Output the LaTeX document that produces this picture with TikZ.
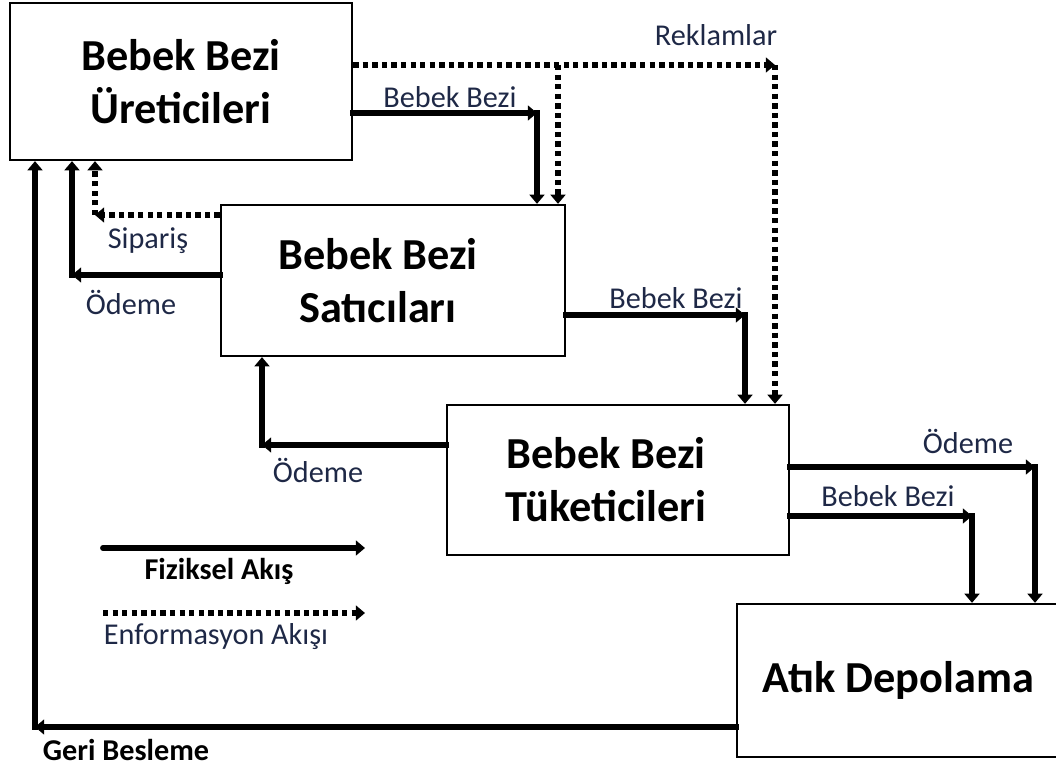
\documentclass[tikz,border=0pt]{standalone}
\usepackage{fontspec}
\setmainfont{Carlito}
\usetikzlibrary{arrows.meta, positioning}
\definecolor{lacivert}{RGB}{30, 40, 70}
\newcommand{\buyukyazi}{\fontsize{31.5}{37.6}\selectfont\bfseries}
\newcommand{\kucukyazi}{\fontsize{21.5}{25}\selectfont}

\tikzset{
  kutu/.style={draw, line width=1.6pt, align=center, font=\buyukyazi},
  fiz/.style={line width=4.2pt, line cap=rect, -{Triangle[length=6.5pt, width=10.5pt]}},
  enf/.style={line width=4.2pt, dash pattern=on 3.8pt off 3pt, -{Triangle[length=6.5pt, width=10.5pt]}},
  yazi/.style={font=\kucukyazi, text=lacivert},
  kalin/.style={font=\kucukyazi\bfseries, text=black}
}

\begin{document}
\begin{tikzpicture}[x=0.025cm, y=-0.025cm]
\useasboundingbox (0,0) rectangle (1056,767);

% Kutular
\node[kutu, minimum width=8.55cm, minimum height=3.925cm] (ureticiler) at (181,81.5) {Bebek Bezi\\Üreticileri};
\node[kutu, minimum width=8.6cm, minimum height=3.775cm,
  label={[align=center, font=\buyukyazi, xshift=-0.375cm]center:Bebek Bezi\\Satıcıları}] (saticilar) at (393,280.5) {};
\node[kutu, minimum width=8.55cm, minimum height=3.75cm,
  label={[align=center, font=\buyukyazi, xshift=-0.3cm]center:Bebek Bezi\\Tüketicileri}] (tuketiciler) at (618,480) {};
\node[kutu, minimum width=8.075cm, minimum height=3.825cm] (atik) at (898.5,680.5) {Atık Depolama};

% Köşeler
\coordinate (k1) at (537,113);
\coordinate (r1) at (775,65);
\coordinate (r2) at (558,65);
\coordinate (s1) at (95,215);
\coordinate (o1) at (72,275);
\coordinate (k2) at (745,315);
\coordinate (o2) at (262,445);
\coordinate (o3) at (1035,467);
\coordinate (k3) at (972,516);
\coordinate (g1) at (35,727);

% Üreticiler -> Satıcılar
\draw[fiz] (ureticiler.east |- k1) -- (k1);
\draw[fiz] (k1) -- (k1 |- saticilar.north);
\node[yazi] at (450,97) {Bebek Bezi};

% Reklamlar
\draw[enf] (ureticiler.east |- r1) -- (r1);
\draw[enf] (r1) -- (r1 |- tuketiciler.north);
\draw[enf] (r2) -- (r2 |- saticilar.north);
\node[yazi] at (716,35) {Reklamlar};

% Satıcılar -> Üreticiler
\draw[enf] (saticilar.west |- s1) -- (s1);
\draw[enf] (s1) -- (s1 |- ureticiler.south);
\node[yazi] at (148,241) {Sipariş};
\draw[fiz] (saticilar.west |- o1) -- (o1);
\draw[fiz] (o1) -- (o1 |- ureticiler.south);
\node[yazi] at (131,302) {Ödeme};

% Satıcılar -> Tüketiciler
\draw[fiz] (saticilar.east |- k2) -- (k2);
\draw[fiz] (k2) -- (k2 |- tuketiciler.north);
\node[yazi] at (676,298) {Bebek Bezi};

% Tüketiciler -> Satıcılar
\draw[fiz] (tuketiciler.west |- o2) -- (o2);
\draw[fiz] (o2) -- (o2 |- saticilar.south);
\node[yazi] at (318,470) {Ödeme};

% Tüketiciler -> Atık Depolama
\draw[fiz] (tuketiciler.east |- o3) -- (o3);
\draw[fiz] (o3) -- (o3 |- atik.north);
\node[yazi] at (968,441) {Ödeme};
\draw[fiz] (tuketiciler.east |- k3) -- (k3);
\draw[fiz] (k3) -- (k3 |- atik.north);
\node[yazi] at (888,496) {Bebek Bezi};

% Geri besleme
\draw[fiz] (atik.west |- g1) -- (g1);
\draw[fiz] (g1) -- (g1 |- ureticiler.south);
\node[kalin] at (126,750) {Geri Besleme};

% Gösterim
\coordinate (f1) at (103,548);
\coordinate (f2) at (365,548);
\draw[fiz, line cap=round] (f1) -- (f2);
\node[kalin] at (219,571) {Fiziksel Akış};
\coordinate (e1) at (103,613);
\coordinate (e2) at (365,613);
\draw[enf] (e1) -- (e2);
\node[yazi] at (216,637) {Enformasyon Akışı};
\end{tikzpicture}
\end{document}
